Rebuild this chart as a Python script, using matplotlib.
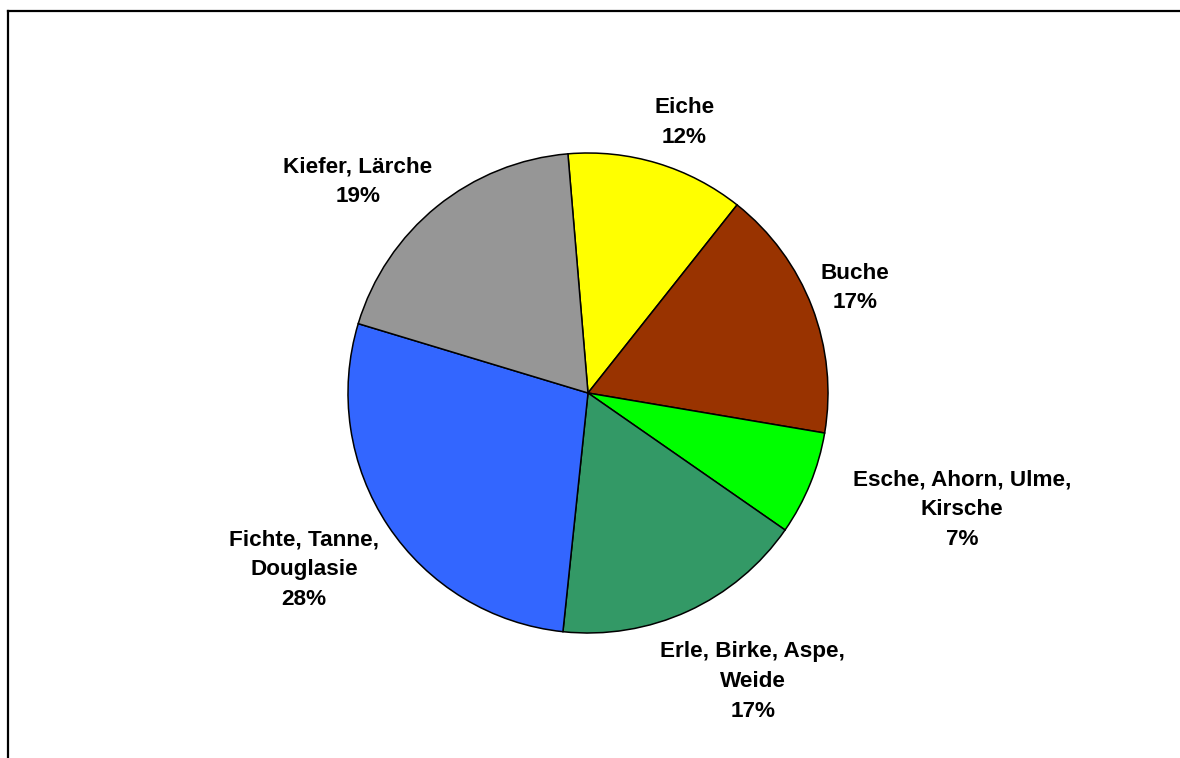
import numpy as np
import matplotlib
matplotlib.use("Agg")
import matplotlib.pyplot as plt
from matplotlib.lines import Line2D

plt.rcParams['font.family'] = ['Liberation Sans', 'DejaVu Sans']

# Anteile der Baumartengruppen (in Prozent)
categories = ["Eiche", "Buche", "Esche, Ahorn, Ulme,\nKirsche", "Erle, Birke, Aspe,\nWeide",
              "Fichte, Tanne,\nDouglasie", "Kiefer, Lärche"]
shares = [12, 17, 7, 17, 28, 19]
colors = ["#FFFF00", "#993300", "#00FF00", "#339966", "#3366FF", "#969696"]

# Label offsets (pixels) from the outer midpoint of each wedge
label_offsets = [(27, 41), (43, 19), (152, -26), (65, -70), (-84, -44), (-79, 25)]

W, H = 1180, 758
fig = plt.figure(figsize=(W / 100, H / 100), dpi=100)
fig.patch.set_facecolor("white")

cx, cy, R = 588, 393, 240
ax = fig.add_axes([(cx - R) / W, (H - cy - R) / H, 2 * R / W, 2 * R / H])

wedges, _ = ax.pie(shares, colors=colors, startangle=94.8, counterclock=False,
                   wedgeprops=dict(edgecolor="black", linewidth=1.1))
ax.set_xlim(-1, 1)
ax.set_ylim(-1, 1)
ax.set_aspect("equal")
ax.axis("off")

for w, cat, val, off in zip(wedges, categories, shares, label_offsets):
    mid = np.deg2rad((w.theta1 + w.theta2) / 2)
    ax.annotate(f"{cat}\n{val}%", xy=(np.cos(mid), np.sin(mid)), xytext=off,
                textcoords="offset pixels", ha="center", va="center",
                multialignment="center", fontsize=16.2, fontweight="bold",
                linespacing=1.56, annotation_clip=False)

# Chart frame (top and left edges)
fig.add_artist(Line2D([8 / W, 1.0], [1 - 10.5 / H, 1 - 10.5 / H], color="black",
                      linewidth=1.6, transform=fig.transFigure))
fig.add_artist(Line2D([8 / W, 8 / W], [0.0, 1 - 10.5 / H], color="black",
                      linewidth=1.6, transform=fig.transFigure))

fig.savefig("out.png", dpi=100)
